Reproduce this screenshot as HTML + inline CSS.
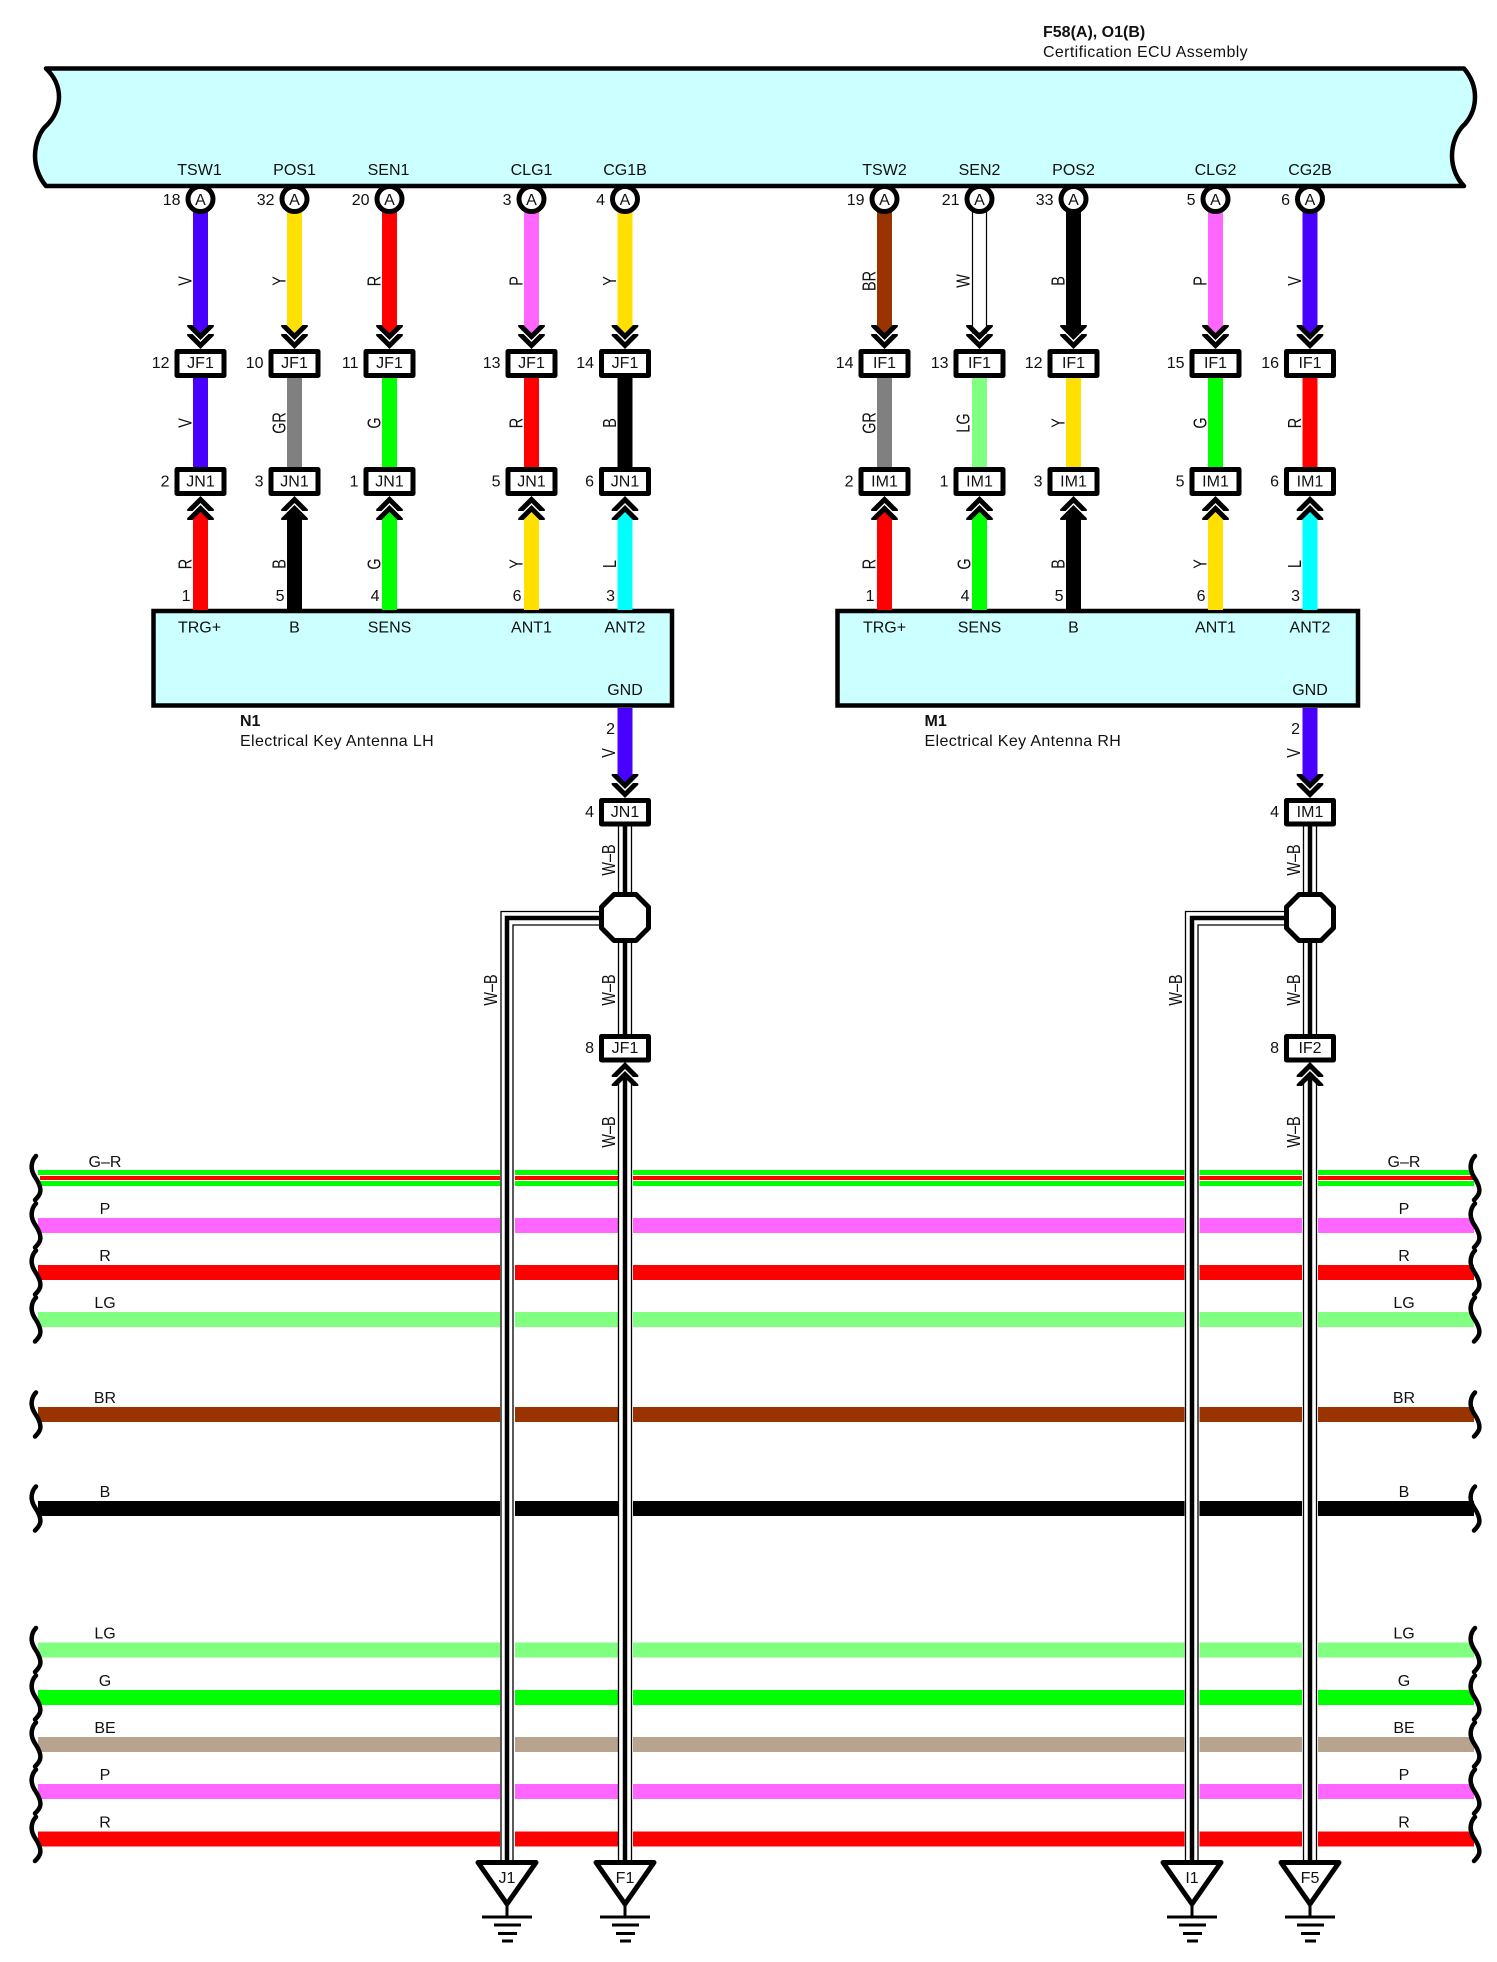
<!DOCTYPE html>
<html>
<head>
<meta charset="utf-8">
<style>
html,body{margin:0;padding:0;background:#fff}
svg{display:block}
text{font-family:"Liberation Sans",Arial,sans-serif;font-size:16px;fill:#111}
.m{text-anchor:middle}
.e{text-anchor:end}
.b{font-weight:bold}
.s{letter-spacing:.36px}
.k{fill:#fff;stroke:#000;stroke-width:5;stroke-linejoin:round}
.t{fill:none;stroke:#000;stroke-width:1.3}
.h{fill:none;stroke:#000;stroke-width:4.5}
.br{fill:none;stroke:#000;stroke-width:4.5;stroke-linecap:round}
.V{fill:#4800ff}.Y{fill:#ffe000}.R{fill:#ff0000}.P{fill:#ff66ff}.G{fill:#00ff00}.LG{fill:#80ff80}
.GR{fill:#808080}.B{fill:#000}.L{fill:#00ffff}.BN{fill:#993300}.BE{fill:#b8a48e}
</style>
</head>
<body>
<svg width="1497" height="1962" viewBox="0 0 1497 1962" xmlns="http://www.w3.org/2000/svg">
<defs>
<g id="d">
<polygon fill="#000" points="-13.3,-22.3 -13.3,-24 -8,-24 0,-16 8,-24 13.3,-24 13.3,-22.3 0,-9"/>
<polygon fill="#000" points="-13.3,-13.3 -13.3,-15 -8,-15 0,-7 8,-15 13.3,-15 13.3,-13.3 0,0"/>
</g>
<g id="u" transform="scale(1,-1)">
<polygon fill="#000" points="-13.3,-22.3 -13.3,-24 -8,-24 0,-16 8,-24 13.3,-24 13.3,-22.3 0,-9"/>
<polygon fill="#000" points="-13.3,-13.3 -13.3,-15 -8,-15 0,-7 8,-15 13.3,-15 13.3,-13.3 0,0"/>
</g>
<g id="gnd">
<polygon points="-29,1862.5 29,1862.5 0,1904" fill="#fff" stroke="#000" stroke-width="5" stroke-linejoin="round"/>
<rect x="-1.5" y="1904" width="3" height="13" fill="#000"/>
<rect x="-25" y="1915.5" width="50" height="3" fill="#000"/>
<rect x="-13" y="1923.5" width="27" height="3" fill="#000"/>
<rect x="-9" y="1932" width="19" height="3" fill="#000"/>
<rect x="-5" y="1939.5" width="11" height="3" fill="#000"/>
</g>
<path id="bk" class="br" d="M35,-22 C31,-18 30,-12 31,-8 C32,-3 35,0 37,4 C39,8 40,12 39,15 C38,18 36,20 34,22"/>
</defs>

<!-- title -->
<text x="1043" y="37" class="b">F58(A), O1(B)</text>
<text x="1043" y="57" class="s">Certification ECU Assembly</text>

<!-- ECU -->
<path d="M46,68.5 C56,78 59,88 59,97 C59,108 54,118 47,125 C40,131 35,143 35,156 C35,168 40,179 46,186 L1464,186 C1457,179 1452,168 1452,156 C1452,143 1457,131 1465,124 C1471,117 1475,108 1475,97 C1475,88 1472,78 1464,68.5 Z" fill="#ccffff" stroke="#000" stroke-width="4.5" stroke-linejoin="round"/>

<!-- horizontal wires -->
<rect x="38" y="1170" width="1436" height="16" class="G"/>
<rect x="38" y="1175" width="1436" height="6" fill="#fff"/>
<rect x="40" y="1176" width="1434" height="4" class="R"/>
<rect x="38" y="1218" width="1436" height="15" class="P"/>
<rect x="38" y="1265" width="1436" height="15" class="R"/>
<rect x="38" y="1312" width="1436" height="15" class="LG"/>
<rect x="38" y="1407" width="1436" height="15" class="BN"/>
<rect x="38" y="1501" width="1436" height="15" class="B"/>
<rect x="38" y="1642.5" width="1436" height="15" class="LG"/>
<rect x="38" y="1690" width="1436" height="15" class="G"/>
<rect x="38" y="1737" width="1436" height="15" class="BE"/>
<rect x="38" y="1784" width="1436" height="15" class="P"/>
<rect x="38" y="1831.5" width="1436" height="15" class="R"/>

<!-- gaps -->
<rect x="500" y="1160" width="15" height="700" fill="#fff"/>
<rect x="618" y="1160" width="15" height="700" fill="#fff"/>
<rect x="1184.5" y="1160" width="15" height="700" fill="#fff"/>
<rect x="1302" y="1160" width="16" height="700" fill="#fff"/>

<!-- brackets -->
<use href="#bk" transform="translate(1,1178)"/><use href="#bk" transform="translate(1440,1178)"/>
<use href="#bk" transform="translate(1,1225.5)"/><use href="#bk" transform="translate(1440,1225.5)"/>
<use href="#bk" transform="translate(1,1272.5)"/><use href="#bk" transform="translate(1440,1272.5)"/>
<use href="#bk" transform="translate(1,1319.5)"/><use href="#bk" transform="translate(1440,1319.5)"/>
<use href="#bk" transform="translate(1,1414.5)"/><use href="#bk" transform="translate(1440,1414.5)"/>
<use href="#bk" transform="translate(1,1508.5)"/><use href="#bk" transform="translate(1440,1508.5)"/>
<use href="#bk" transform="translate(1,1650)"/><use href="#bk" transform="translate(1440,1650)"/>
<use href="#bk" transform="translate(1,1697.5)"/><use href="#bk" transform="translate(1440,1697.5)"/>
<use href="#bk" transform="translate(1,1744.5)"/><use href="#bk" transform="translate(1440,1744.5)"/>
<use href="#bk" transform="translate(1,1791.5)"/><use href="#bk" transform="translate(1440,1791.5)"/>
<use href="#bk" transform="translate(1,1839)"/><use href="#bk" transform="translate(1440,1839)"/>

<!-- horizontal labels -->
<text x="105" y="1167" class="m">G–R</text><text x="1404" y="1167" class="m">G–R</text>
<text x="105" y="1214" class="m">P</text><text x="1404" y="1214" class="m">P</text>
<text x="105" y="1261" class="m">R</text><text x="1404" y="1261" class="m">R</text>
<text x="105" y="1308" class="m">LG</text><text x="1404" y="1308" class="m">LG</text>
<text x="105" y="1403" class="m">BR</text><text x="1404" y="1403" class="m">BR</text>
<text x="105" y="1497" class="m">B</text><text x="1404" y="1497" class="m">B</text>
<text x="105" y="1638.5" class="m">LG</text><text x="1404" y="1638.5" class="m">LG</text>
<text x="105" y="1686" class="m">G</text><text x="1404" y="1686" class="m">G</text>
<text x="105" y="1733" class="m">BE</text><text x="1404" y="1733" class="m">BE</text>
<text x="105" y="1780" class="m">P</text><text x="1404" y="1780" class="m">P</text>
<text x="105" y="1827.5" class="m">R</text><text x="1404" y="1827.5" class="m">R</text>

<!-- boxes -->
<rect x="153.5" y="611" width="518.5" height="94.5" fill="#ccffff" stroke="#000" stroke-width="4.5"/>
<rect x="837.5" y="611" width="520.5" height="94.5" fill="#ccffff" stroke="#000" stroke-width="4.5"/>
<text x="240" y="726" class="b">N1</text>
<text x="240" y="746" class="s">Electrical Key Antenna LH</text>
<text x="924.5" y="726" class="b">M1</text>
<text x="924.5" y="746" class="s">Electrical Key Antenna RH</text>

<!-- columns left -->
<g transform="translate(200.5,0)">
<rect x="-7.5" y="210" width="15" height="123" class="V"/><rect x="-7.5" y="378" width="15" height="89" class="V"/><rect x="-7.5" y="512" width="15" height="98" class="R"/>
<circle cy="199" r="12.5" class="k"/><use href="#d" y="349"/><use href="#u" y="496"/>
<rect x="-23.5" y="351.5" width="47" height="24" class="k"/><rect x="-23.5" y="469.5" width="47" height="24" class="k"/>
<text x="-1" y="175" class="m">TSW1</text><text y="205" class="m">A</text><text x="-20" y="205" class="e">18</text>
<text y="368" class="m">JF1</text><text x="-31" y="368" class="e">12</text><text y="486.5" class="m">JN1</text><text x="-31" y="486.5" class="e">2</text>
<text x="-10" y="601" class="e">1</text><text x="-1" y="632.5" class="m">TRG+</text>
<text transform="translate(-9,281) rotate(-90) scale(.9,1.15)" class="m">V</text>
<text transform="translate(-9,423) rotate(-90) scale(.9,1.15)" class="m">V</text>
<text transform="translate(-9,564) rotate(-90) scale(.9,1.15)" class="m">R</text>
</g>
<g transform="translate(294.5,0)">
<rect x="-7.5" y="210" width="15" height="123" class="Y"/><rect x="-7.5" y="378" width="15" height="89" class="GR"/><rect x="-7.5" y="512" width="15" height="98" class="B"/>
<circle cy="199" r="12.5" class="k"/><use href="#d" y="349"/><use href="#u" y="496"/>
<rect x="-23.5" y="351.5" width="47" height="24" class="k"/><rect x="-23.5" y="469.5" width="47" height="24" class="k"/>
<text y="175" class="m">POS1</text><text y="205" class="m">A</text><text x="-20" y="205" class="e">32</text>
<text y="368" class="m">JF1</text><text x="-31" y="368" class="e">10</text><text y="486.5" class="m">JN1</text><text x="-31" y="486.5" class="e">3</text>
<text x="-10" y="601" class="e">5</text><text y="632.5" class="m">B</text>
<text transform="translate(-9,281) rotate(-90) scale(.9,1.15)" class="m">Y</text>
<text transform="translate(-9,423) rotate(-90) scale(.9,1.15)" class="m">GR</text>
<text transform="translate(-9,564) rotate(-90) scale(.9,1.15)" class="m">B</text>
</g>
<g transform="translate(389.5,0)">
<rect x="-7.5" y="210" width="15" height="123" class="R"/><rect x="-7.5" y="378" width="15" height="89" class="G"/><rect x="-7.5" y="512" width="15" height="98" class="G"/>
<circle cy="199" r="12.5" class="k"/><use href="#d" y="349"/><use href="#u" y="496"/>
<rect x="-23.5" y="351.5" width="47" height="24" class="k"/><rect x="-23.5" y="469.5" width="47" height="24" class="k"/>
<text x="-1" y="175" class="m">SEN1</text><text y="205" class="m">A</text><text x="-20" y="205" class="e">20</text>
<text y="368" class="m">JF1</text><text x="-31" y="368" class="e">11</text><text y="486.5" class="m">JN1</text><text x="-31" y="486.5" class="e">1</text>
<text x="-10" y="601" class="e">4</text><text y="632.5" class="m">SENS</text>
<text transform="translate(-9,281) rotate(-90) scale(.9,1.15)" class="m">R</text>
<text transform="translate(-9,423) rotate(-90) scale(.9,1.15)" class="m">G</text>
<text transform="translate(-9,564) rotate(-90) scale(.9,1.15)" class="m">G</text>
</g>
<g transform="translate(531.5,0)">
<rect x="-7.5" y="210" width="15" height="123" class="P"/><rect x="-7.5" y="378" width="15" height="89" class="R"/><rect x="-7.5" y="512" width="15" height="98" class="Y"/>
<circle cy="199" r="12.5" class="k"/><use href="#d" y="349"/><use href="#u" y="496"/>
<rect x="-23.5" y="351.5" width="47" height="24" class="k"/><rect x="-23.5" y="469.5" width="47" height="24" class="k"/>
<text y="175" class="m">CLG1</text><text y="205" class="m">A</text><text x="-20" y="205" class="e">3</text>
<text y="368" class="m">JF1</text><text x="-31" y="368" class="e">13</text><text y="486.5" class="m">JN1</text><text x="-31" y="486.5" class="e">5</text>
<text x="-10" y="601" class="e">6</text><text y="632.5" class="m">ANT1</text>
<text transform="translate(-9,281) rotate(-90) scale(.9,1.15)" class="m">P</text>
<text transform="translate(-9,423) rotate(-90) scale(.9,1.15)" class="m">R</text>
<text transform="translate(-9,564) rotate(-90) scale(.9,1.15)" class="m">Y</text>
</g>
<g transform="translate(625,0)">
<rect x="-7.5" y="210" width="15" height="123" class="Y"/><rect x="-7.5" y="378" width="15" height="89" class="B"/><rect x="-7.5" y="512" width="15" height="98" class="L"/>
<circle cy="199" r="12.5" class="k"/><use href="#d" y="349"/><use href="#u" y="496"/>
<rect x="-23.5" y="351.5" width="47" height="24" class="k"/><rect x="-23.5" y="469.5" width="47" height="24" class="k"/>
<text y="175" class="m">CG1B</text><text y="205" class="m">A</text><text x="-20" y="205" class="e">4</text>
<text y="368" class="m">JF1</text><text x="-31" y="368" class="e">14</text><text y="486.5" class="m">JN1</text><text x="-31" y="486.5" class="e">6</text>
<text x="-10" y="601" class="e">3</text><text y="632.5" class="m">ANT2</text>
<text transform="translate(-9,281) rotate(-90) scale(.9,1.15)" class="m">Y</text>
<text transform="translate(-9,423) rotate(-90) scale(.9,1.15)" class="m">B</text>
<text transform="translate(-9,564) rotate(-90) scale(.9,1.15)" class="m">L</text>
</g>

<!-- columns right -->
<g transform="translate(884.5,0)">
<rect x="-7.5" y="210" width="15" height="123" class="BN"/><rect x="-7.5" y="378" width="15" height="89" class="GR"/><rect x="-7.5" y="512" width="15" height="98" class="R"/>
<circle cy="199" r="12.5" class="k"/><use href="#d" y="349"/><use href="#u" y="496"/>
<rect x="-23.5" y="351.5" width="47" height="24" class="k"/><rect x="-23.5" y="469.5" width="47" height="24" class="k"/>
<text y="175" class="m">TSW2</text><text y="205" class="m">A</text><text x="-20" y="205" class="e">19</text>
<text y="368" class="m">IF1</text><text x="-31" y="368" class="e">14</text><text y="486.5" class="m">IM1</text><text x="-31" y="486.5" class="e">2</text>
<text x="-10" y="601" class="e">1</text><text y="632.5" class="m">TRG+</text>
<text transform="translate(-9,281) rotate(-90) scale(.9,1.15)" class="m">BR</text>
<text transform="translate(-9,423) rotate(-90) scale(.9,1.15)" class="m">GR</text>
<text transform="translate(-9,564) rotate(-90) scale(.9,1.15)" class="m">R</text>
</g>
<g transform="translate(979.5,0)">
<rect x="-7" y="210" width="14" height="123" fill="#fff" stroke="#000" stroke-width="1.2"/><rect x="-7.5" y="378" width="15" height="89" class="LG"/><rect x="-7.5" y="512" width="15" height="98" class="G"/>
<circle cy="199" r="12.5" class="k"/><use href="#d" y="349"/><use href="#u" y="496"/>
<rect x="-23.5" y="351.5" width="47" height="24" class="k"/><rect x="-23.5" y="469.5" width="47" height="24" class="k"/>
<text y="175" class="m">SEN2</text><text y="205" class="m">A</text><text x="-20" y="205" class="e">21</text>
<text y="368" class="m">IF1</text><text x="-31" y="368" class="e">13</text><text y="486.5" class="m">IM1</text><text x="-31" y="486.5" class="e">1</text>
<text x="-10" y="601" class="e">4</text><text y="632.5" class="m">SENS</text>
<text transform="translate(-10,281) rotate(-90) scale(.9,1.15)" class="m">W</text>
<text transform="translate(-10,423) rotate(-90) scale(.9,1.15)" class="m">LG</text>
<text transform="translate(-9,564) rotate(-90) scale(.9,1.15)" class="m">G</text>
</g>
<g transform="translate(1073.5,0)">
<rect x="-7.5" y="210" width="15" height="123" class="B"/><rect x="-7.5" y="378" width="15" height="89" class="Y"/><rect x="-7.5" y="512" width="15" height="98" class="B"/>
<circle cy="199" r="12.5" class="k"/><use href="#d" y="349"/><use href="#u" y="496"/>
<rect x="-23.5" y="351.5" width="47" height="24" class="k"/><rect x="-23.5" y="469.5" width="47" height="24" class="k"/>
<text y="175" class="m">POS2</text><text y="205" class="m">A</text><text x="-20" y="205" class="e">33</text>
<text y="368" class="m">IF1</text><text x="-31" y="368" class="e">12</text><text y="486.5" class="m">IM1</text><text x="-31" y="486.5" class="e">3</text>
<text x="-10" y="601" class="e">5</text><text y="632.5" class="m">B</text>
<text transform="translate(-9,281) rotate(-90) scale(.9,1.15)" class="m">B</text>
<text transform="translate(-9,423) rotate(-90) scale(.9,1.15)" class="m">Y</text>
<text transform="translate(-9,564) rotate(-90) scale(.9,1.15)" class="m">B</text>
</g>
<g transform="translate(1215.5,0)">
<rect x="-7.5" y="210" width="15" height="123" class="P"/><rect x="-7.5" y="378" width="15" height="89" class="G"/><rect x="-7.5" y="512" width="15" height="98" class="Y"/>
<circle cy="199" r="12.5" class="k"/><use href="#d" y="349"/><use href="#u" y="496"/>
<rect x="-23.5" y="351.5" width="47" height="24" class="k"/><rect x="-23.5" y="469.5" width="47" height="24" class="k"/>
<text y="175" class="m">CLG2</text><text y="205" class="m">A</text><text x="-20" y="205" class="e">5</text>
<text y="368" class="m">IF1</text><text x="-31" y="368" class="e">15</text><text y="486.5" class="m">IM1</text><text x="-31" y="486.5" class="e">5</text>
<text x="-10" y="601" class="e">6</text><text y="632.5" class="m">ANT1</text>
<text transform="translate(-9,281) rotate(-90) scale(.9,1.15)" class="m">P</text>
<text transform="translate(-9,423) rotate(-90) scale(.9,1.15)" class="m">G</text>
<text transform="translate(-9,564) rotate(-90) scale(.9,1.15)" class="m">Y</text>
</g>
<g transform="translate(1310,0)">
<rect x="-7.5" y="210" width="15" height="123" class="V"/><rect x="-7.5" y="378" width="15" height="89" class="R"/><rect x="-7.5" y="512" width="15" height="98" class="L"/>
<circle cy="199" r="12.5" class="k"/><use href="#d" y="349"/><use href="#u" y="496"/>
<rect x="-23.5" y="351.5" width="47" height="24" class="k"/><rect x="-23.5" y="469.5" width="47" height="24" class="k"/>
<text y="175" class="m">CG2B</text><text y="205" class="m">A</text><text x="-20" y="205" class="e">6</text>
<text y="368" class="m">IF1</text><text x="-31" y="368" class="e">16</text><text y="486.5" class="m">IM1</text><text x="-31" y="486.5" class="e">6</text>
<text x="-10" y="601" class="e">3</text><text y="632.5" class="m">ANT2</text>
<text transform="translate(-9,281) rotate(-90) scale(.9,1.15)" class="m">V</text>
<text transform="translate(-9,423) rotate(-90) scale(.9,1.15)" class="m">R</text>
<text transform="translate(-9,564) rotate(-90) scale(.9,1.15)" class="m">L</text>
</g>

<!-- GND chains left -->
<g transform="translate(625,0)">
<rect x="-7.5" y="708" width="15" height="74" class="V"/>
<use href="#d" y="798"/>
<path class="t" d="M-6.5,826V892M6.5,826V892M-6.5,943V1034M6.5,943V1034M-6.5,1078V1862M6.5,1078V1862"/>
<path class="h" d="M0,826V892M0,943V1034M0,1078V1862"/>
<path class="t" d="M-26,911.5H-124V1862"/>
<path class="t" d="M-26,925H-112V1862"/>
<path class="h" d="M-26,918H-118V1862"/>
<polygon points="-11,894.5 11,894.5 23.5,907 23.5,928 11,940.5 -11,940.5 -23.5,928 -23.5,907" class="k"/>
<rect x="-23.5" y="800.5" width="47" height="23.5" class="k"/>
<rect x="-23.5" y="1036.5" width="47" height="23.5" class="k"/>
<use href="#u" y="1062"/>
<text y="817" class="m">JN1</text><text x="-31" y="817" class="e">4</text>
<text y="1053" class="m">JF1</text><text x="-31" y="1053" class="e">8</text>
<text x="-10" y="734" class="e">2</text><text y="695" class="m">GND</text>
<text transform="translate(-10,753) rotate(-90) scale(.9,1.15)" class="m">V</text>
<text transform="translate(-10,860) rotate(-90) scale(.9,1.15)" class="m">W–B</text>
<text transform="translate(-10,990) rotate(-90) scale(.9,1.15)" class="m">W–B</text>
<text transform="translate(-10,1132) rotate(-90) scale(.9,1.15)" class="m">W–B</text>
<text transform="translate(-128,990) rotate(-90) scale(.9,1.15)" class="m">W–B</text>
</g>

<!-- GND chains right -->
<g transform="translate(1310,0)">
<rect x="-7.5" y="708" width="15" height="74" class="V"/>
<use href="#d" y="798"/>
<path class="t" d="M-6.5,826V892M6.5,826V892M-6.5,943V1034M6.5,943V1034M-6.5,1078V1862M6.5,1078V1862"/>
<path class="h" d="M0,826V892M0,943V1034M0,1078V1862"/>
<path class="t" d="M-26,911.5H-124.5V1862"/>
<path class="t" d="M-26,925H-112V1862"/>
<path class="h" d="M-26,918H-118V1862"/>
<polygon points="-11,894.5 11,894.5 23.5,907 23.5,928 11,940.5 -11,940.5 -23.5,928 -23.5,907" class="k"/>
<rect x="-23.5" y="800.5" width="47" height="23.5" class="k"/>
<rect x="-23.5" y="1036.5" width="47" height="23.5" class="k"/>
<use href="#u" y="1062"/>
<text y="817" class="m">IM1</text><text x="-31" y="817" class="e">4</text>
<text y="1053" class="m">IF2</text><text x="-31" y="1053" class="e">8</text>
<text x="-10" y="734" class="e">2</text><text y="695" class="m">GND</text>
<text transform="translate(-10,753) rotate(-90) scale(.9,1.15)" class="m">V</text>
<text transform="translate(-10,860) rotate(-90) scale(.9,1.15)" class="m">W–B</text>
<text transform="translate(-10,990) rotate(-90) scale(.9,1.15)" class="m">W–B</text>
<text transform="translate(-10,1132) rotate(-90) scale(.9,1.15)" class="m">W–B</text>
<text transform="translate(-128,990) rotate(-90) scale(.9,1.15)" class="m">W–B</text>
</g>

<!-- grounds -->
<g transform="translate(507,0)"><use href="#gnd"/><text y="1883" class="m">J1</text></g>
<g transform="translate(625,0)"><use href="#gnd"/><text y="1883" class="m">F1</text></g>
<g transform="translate(1192,0)"><use href="#gnd"/><text y="1883" class="m">I1</text></g>
<g transform="translate(1310,0)"><use href="#gnd"/><text y="1883" class="m">F5</text></g>
</svg>
</body>
</html>
